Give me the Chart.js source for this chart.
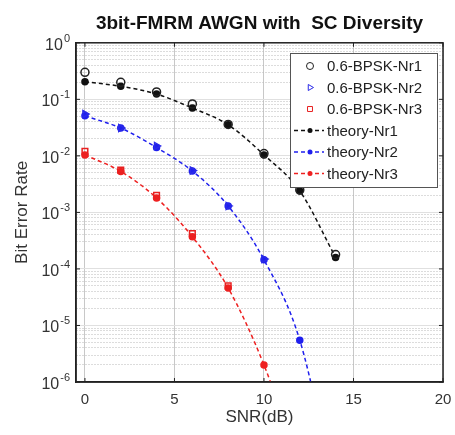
<!DOCTYPE html>
<html>
<head>
<meta charset="utf-8">
<script src="https://cdn.jsdelivr.net/npm/chart.js@4.4.0/dist/chart.umd.min.js"></script>
<style>
  html, body { margin: 0; padding: 0; background: #fff; }
  #wrap { width: 455px; height: 435px; }
</style>
</head>
<body>
<div id="wrap"><canvas id="berChart" width="455" height="435"></canvas></div>
<script>
// SNR points (dB)
const snr = [0, 2, 4, 6, 8, 10, 12, 14];

// measured BER (0.6-BPSK)
const measNr1 = [0.30, 0.20, 0.135, 0.083, 0.036, 0.011, 0.0025, 0.00018];
const measNr2 = [0.055, 0.031, 0.015, 0.0055, 0.0013, 0.00015];
const measNr3 = [0.012, 0.0056, 0.002, 0.00042, 0.00005];

// theory curves (last points run below the axis and get clipped)
const theoryNr1 = [0.205, 0.17, 0.124, 0.070, 0.0355, 0.0104, 0.0024, 0.00016];
const theoryNr2 = [0.051, 0.031, 0.014, 0.0054, 0.0013, 0.000145, 0.0000055, 0.00000001];
const theoryNr3 = [0.0104, 0.0053, 0.0018, 0.00037, 0.000046, 0.000002, 0.00000003];

const xTickLabels = [0, 5, 10, 15, 20];
const yDecades = [-6, -5, -4, -3, -2, -1, 0];

function toPoints(xs, ys) {
    return ys.map((y, i) => ({ x: xs[i], y: y }));
}

function isDecade(v) {
    const l = Math.log10(v);
    return Math.abs(l - Math.round(l)) < 1e-6;
}

const FONT = "'Liberation Sans', Arial, sans-serif";

// box around the axes, 10^n labels, legend in the upper right (matlab style)
const framePlugin = {
    id: "frame",
    afterDatasetsDraw(chart) {
        const { ctx, chartArea } = chart;
        const xs = chart.scales.x, ys = chart.scales.y;
        ctx.save();
        ctx.strokeStyle = "#222";
        ctx.lineWidth = 1.5;
        ctx.strokeRect(chartArea.left, chartArea.top, chartArea.right - chartArea.left, chartArea.bottom - chartArea.top);

        // small inside tick marks
        ctx.lineWidth = 1;
        xTickLabels.forEach((v) => {
            const px = xs.getPixelForValue(v);
            ctx.beginPath();
            ctx.moveTo(px, chartArea.bottom); ctx.lineTo(px, chartArea.bottom - 4);
            ctx.moveTo(px, chartArea.top); ctx.lineTo(px, chartArea.top + 4);
            ctx.stroke();
        });
        yDecades.forEach((e) => {
            const py = ys.getPixelForValue(Math.pow(10, e));
            ctx.beginPath();
            ctx.moveTo(chartArea.left, py); ctx.lineTo(chartArea.left + 4, py);
            ctx.moveTo(chartArea.right, py); ctx.lineTo(chartArea.right - 4, py);
            ctx.stroke();

            // label 10^e with a raised exponent
            const exp = String(e);
            ctx.fillStyle = "#333";
            ctx.textBaseline = "alphabetic";
            ctx.textAlign = "right";
            ctx.font = "11px " + FONT;
            const ew = ctx.measureText(exp).width;
            const rx = chartArea.left - 6;
            ctx.fillText(exp, rx, py - 1);
            ctx.font = "16px " + FONT;
            ctx.fillText("10", rx - ew - 1, py + 7);
        });

        // legend
        const lx = 290, ly = 53, lw = 147, lh = 134;
        ctx.textAlign = "left";
        ctx.fillStyle = "#fff";
        ctx.fillRect(lx, ly, lw, lh);
        ctx.strokeStyle = "#555";
        ctx.lineWidth = 1;
        ctx.strokeRect(lx + 0.5, ly + 0.5, lw, lh);
        ctx.font = "15px " + FONT;
        ctx.textBaseline = "middle";
        chart.data.datasets.forEach((ds, i) => {
            const cy = ly + 13 + i * 21.5;
            const mx = lx + 20;
            ctx.strokeStyle = ds.borderColor;
            ctx.fillStyle = ds.borderColor;
            if (ds.showLine) {
                ctx.lineWidth = 1.5;
                ctx.setLineDash([4, 3]);
                ctx.beginPath();
                ctx.moveTo(lx + 4, cy); ctx.lineTo(lx + 34, cy);
                ctx.stroke();
                ctx.setLineDash([]);
                ctx.beginPath();
                ctx.arc(mx, cy, 2.5, 0, Math.PI * 2);
                ctx.fill();
            } else {
                ctx.lineWidth = 1;
                ctx.fillStyle = "rgba(0,0,0,0)";
                Chart.helpers.drawPoint(ctx, {
                    pointStyle: ds.pointStyle, rotation: ds.pointRotation || 0,
                    radius: 3.5, borderWidth: 1
                }, mx, cy);
            }
            ctx.fillStyle = "#222";
            ctx.fillText(ds.label, lx + 37, cy + 1);
        });
        ctx.restore();
    }
};

const ctx = document.getElementById("berChart").getContext("2d");

new Chart(ctx, {
    type: "line",
    data: {
        datasets: [
            {
                label: "0.6-BPSK-Nr1",
                data: toPoints(snr, measNr1),
                showLine: false,
                borderColor: "#222",
                backgroundColor: "rgba(0,0,0,0)",
                pointStyle: "circle",
                pointRadius: 4,
                borderWidth: 1.5,
            },
            {
                label: "0.6-BPSK-Nr2",
                data: toPoints(snr, measNr2),
                showLine: false,
                borderColor: "#2a2ae8",
                backgroundColor: "rgba(0,0,0,0)",
                pointStyle: "triangle",
                pointRotation: 90,
                pointRadius: 4,
                borderWidth: 1.5,
            },
            {
                label: "0.6-BPSK-Nr3",
                data: toPoints(snr, measNr3),
                showLine: false,
                borderColor: "#e82020",
                backgroundColor: "rgba(0,0,0,0)",
                pointStyle: "rect",
                pointRadius: 4,
                borderWidth: 1.5,
            },
            {
                label: "theory-Nr1",
                data: toPoints(snr, theoryNr1),
                showLine: true,
                borderColor: "#111",
                backgroundColor: "#111",
                borderDash: [4, 3],
                borderWidth: 1.5,
                pointRadius: 3,
                cubicInterpolationMode: "monotone",
            },
            {
                label: "theory-Nr2",
                data: toPoints(snr, theoryNr2),
                showLine: true,
                borderColor: "#1f1fee",
                backgroundColor: "#1f1fee",
                borderDash: [4, 3],
                borderWidth: 1.5,
                pointRadius: 3,
                cubicInterpolationMode: "monotone",
            },
            {
                label: "theory-Nr3",
                data: toPoints(snr, theoryNr3),
                showLine: true,
                borderColor: "#ee2020",
                backgroundColor: "#ee2020",
                borderDash: [4, 3],
                borderWidth: 1.5,
                pointRadius: 3,
                cubicInterpolationMode: "monotone",
            },
        ],
    },
    options: {
        responsive: false,
        animation: false,
        layout: { padding: { top: 0, right: 12, bottom: 0, left: 0 } },
        plugins: {
            legend: { display: false },
            tooltip: { enabled: false },
            title: {
                display: true,
                text: "3bit-FMRM AWGN with  SC Diversity",
                color: "#111",
                fullSize: false,
                font: { family: FONT, size: 19, weight: "bold" },
                padding: { top: 12, bottom: 8 },
            },
        },
        scales: {
            x: {
                type: "linear",
                min: -0.5,
                max: 20,
                afterBuildTicks: (scale) => {
                    scale.ticks = xTickLabels.map((v) => ({ value: v }));
                },
                afterFit: (scale) => {
                    scale.height = 53;
                    scale.paddingLeft = 0;
                    scale.paddingRight = 0;
                },
                ticks: {
                    autoSkip: false,
                    maxRotation: 0,
                    padding: 9,
                    color: "#333",
                    font: { family: FONT, size: 15 },
                },
                grid: {
                    drawTicks: false,
                    color: "#c8c8c8",
                    lineWidth: 1,
                },
                border: {
                    color: "#222",
                    width: 1.5,
                },
                title: {
                    display: true,
                    text: "SNR(dB)",
                    color: "#333",
                    font: { family: FONT, size: 17 },
                    padding: { top: 0, bottom: 7 },
                },
            },
            y: {
                type: "logarithmic",
                min: 1e-6,
                max: 1,
                afterBuildTicks: (scale) => {
                    const t = [];
                    for (let e = -6; e < 0; e++) {
                        for (let m = 1; m <= 9; m++) t.push({ value: m * Math.pow(10, e) });
                    }
                    t.push({ value: 1 });
                    scale.ticks = t;
                },
                afterFit: (scale) => { scale.width = 76; },
                ticks: {
                    autoSkip: false,
                    padding: 6,
                    callback: () => "",
                },
                grid: {
                    drawTicks: false,
                    color: (c) => (c.tick && isDecade(c.tick.value) ? "#e0e0e0" : "#b8b8b8"),
                    lineWidth: 1,
                },
                border: {
                    color: "#222",
                    width: 1.5,
                    dash: (c) => (c.tick && isDecade(c.tick.value) ? [] : [1, 2]),
                },
                title: {
                    display: true,
                    text: "Bit Error Rate",
                    color: "#333",
                    font: { family: FONT, size: 17 },
                    padding: { top: 12, bottom: 0 },
                },
            },
        },
    },
    plugins: [framePlugin],
});
</script>
</body>
</html>
